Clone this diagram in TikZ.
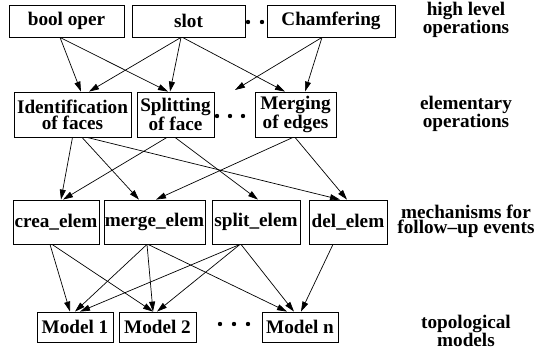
\documentclass[tikz,border=0pt]{standalone}
\usepackage{fontspec}
\setmainfont{Liberation Serif}
\newfontfamily\diagfont{Liberation Serif}[Ligatures=TeX, BoldFont={Liberation Serif Bold}]
\usetikzlibrary{arrows.meta}
\tikzset{
    box/.style={draw, line width=0.8pt, inner sep=1pt, align=center, font=\diagfont\bfseries\fontsize{19.2}{16}\selectfont},
    side/.style={align=center, font=\diagfont\bfseries\fontsize{19.2}{15}\selectfont},
    arr/.style={line width=0.7pt, -{Triangle[length=10pt,width=6pt]}}
}
\begin{document}
\begin{tikzpicture}[x=1pt,y=-1pt]
                \useasboundingbox (0,0) rectangle (539,353);
                \node[box, minimum width=115, minimum height=32] at (66.5,21) (boolop) {bool oper};
                \node[box, minimum width=113, minimum height=32] at (188.5,21) (slot) {slot};
                \node[box, minimum width=128, minimum height=32] at (331,21) (chamf) {Chamfering};
                \node[box, minimum width=117, minimum height=45] at (72.5,114.5) (ident) {Identification\\of faces};
                \node[box, minimum width=77, minimum height=45] at (175.5,114.5) (split) {Splitting\\of face};
                \node[box, minimum width=81, minimum height=45] at (295.5,114.5) (merg) {Merging\\of edges};
                \node[box, minimum width=86, minimum height=44] at (56,222) (crea) {crea\_elem};
                \node[box, minimum width=101, minimum height=44] at (154.5,222) (mergee) {merge\_elem};
                \node[box, minimum width=88, minimum height=44] at (256,222) (splite) {split\_elem};
                \node[box, minimum width=78, minimum height=44] at (348,222) (dele) {del\_elem};
                \node[box, minimum width=76, minimum height=30] at (75,327) (modelone) {Model 1};
                \node[box, minimum width=77, minimum height=30] at (157.5,327) (modeltwo) {Model 2};
                \node[box, minimum width=76, minimum height=30] at (300,327) (modeln) {Model n};
                \node[side] at (466,20) (lhigh) {high level\\operations};
                \node[side] at (466,114) (lelem) {elementary\\operations};
                \node[side] at (466,221) (lmech) {mechanisms for\\follow--up events};
                \node[side] at (466,331) (ltopo) {topological\\models};
                \coordinate (gap) at (235,90);
                \foreach \x in {248,262} \fill (\x,22) circle (2.2);
                \foreach \x in {217,230,243} \fill (\x,116) circle (2.2);
                \foreach \x in {220,234,248} \fill (\x,324) circle (2.2);
                \draw[arr] ([xshift=-6.5]boolop.south) -- ([xshift=8.5]ident.north);
                \draw[arr] ([xshift=-6.5]boolop.south) -- ([xshift=-7.5]split.north);
                \draw[arr] ([xshift=-7.5]slot.south) -- ([xshift=16.5]ident.north);
                \draw[arr] ([xshift=-7.5]slot.south) -- ([xshift=-5.5]split.north);
                \draw[arr] ([xshift=-6]slot.south) -- ([xshift=-10.5]merg.north);
                \draw[arr] ([xshift=-9]chamf.south) -- ([xshift=9.5]merg.north);
                \draw[arr] ([xshift=-9]chamf.south) -- (gap);
                \draw[arr] (ident.south) -- ([xshift=5]crea.north);
                \draw[arr] ([xshift=9.5]ident.south) -- ([xshift=-15.5]mergee.north);
                \draw[arr] ([xshift=14.5]ident.south) -- ([xshift=-8]dele.north);
                \draw[arr] ([xshift=-8.5]split.south) -- ([xshift=7]crea.north);
                \draw[arr] ([xshift=-0.5]split.south) -- ([xshift=2]splite.north);
                \draw[arr] ([xshift=-2.5]merg.south) -- ([xshift=1.5]mergee.north);
                \draw[arr] ([xshift=-0.5]merg.south) -- ([xshift=-1]dele.north);
                \draw[arr] ([xshift=-6]crea.south) -- ([xshift=-5]modelone.north);
                \draw[arr] ([xshift=-4]crea.south) -- ([xshift=-4.5]modeltwo.north);
                \draw[arr] ([xshift=-7.5]mergee.south) -- (modelone.north);
                \draw[arr] ([xshift=-7.5]mergee.south) -- ([xshift=-4.5]modeltwo.north);
                \draw[arr] ([xshift=-6.5]mergee.south) -- ([xshift=-13]modeln.north);
                \draw[arr] ([xshift=-16]splite.south) -- ([xshift=5]modelone.north);
                \draw[arr] ([xshift=-16]splite.south) -- ([xshift=-0.5]modeltwo.north);
                \draw[arr] ([xshift=-15]splite.south) -- ([xshift=-6]modeln.north);
                \draw[arr] ([xshift=-15]dele.south) -- ([xshift=1]modeln.north);
            \end{tikzpicture}
\end{document}
